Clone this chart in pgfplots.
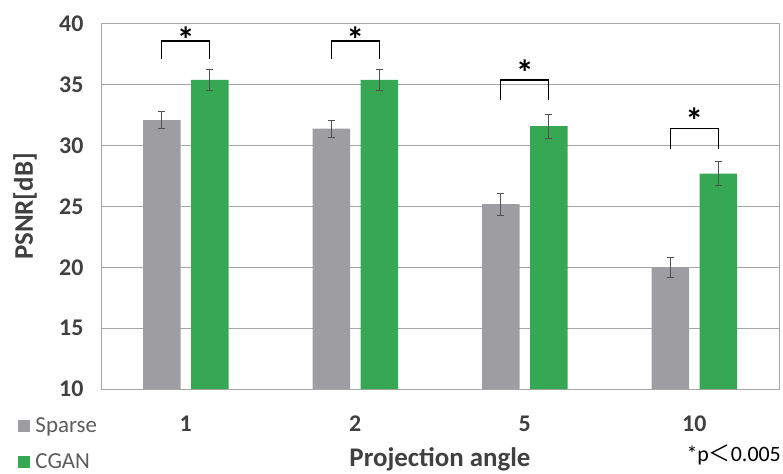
\documentclass[border=0pt]{standalone}
\usepackage{pgfplots}
\pgfplotsset{compat=1.18}
\usepackage{pgfplotstable}
\usepackage{fontspec}
\setmainfont{Carlito}
\newfontfamily\cjk{Noto Sans CJK JP}

\definecolor{sparsegray}{HTML}{9E9EA2}
\definecolor{cgangreen}{HTML}{36A853}
\definecolor{labelgray}{HTML}{404040}
\definecolor{gridgray}{HTML}{A6A6A6}
\definecolor{errgray}{HTML}{505050}

% PSNR (mean and error) per projection angle
\pgfplotstableread{
x  y     e
0  32.1  0.7
1  31.4  0.7
2  25.2  0.9
3  20.0  0.8
}\sparsedata
\pgfplotstableread{
x  y     e
0  35.4  0.9
1  35.4  0.9
2  31.6  1.0
3  27.7  1.0
}\cgandata

% significance bracket: centre x, leg bottom, bracket top, star position
\newcommand{\sigbracket}[4]{%
  \draw[line width=1.3bp, black]
    (axis cs:#1-0.142,#2) -- (axis cs:#1-0.142,#3) -- (axis cs:#1+0.142,#3) -- (axis cs:#1+0.142,#2);
  \node[font=\fontsize{36}{36}\selectfont\bfseries, anchor=center, inner sep=0pt] at (axis cs:#1,#4) {*};
}

\begin{document}
\begin{tikzpicture}
\path[use as bounding box] (0,0) rectangle (783bp,474bp);
\begin{axis}[
  at={(101bp,85bp)}, anchor=south west,
  scale only axis, width=678bp, height=365bp,
  xmin=-0.5, xmax=3.5, ymin=10, ymax=40,
  ytick={10,15,...,40},
  xtick={0,1,2,3}, xticklabels={1,2,5,10},
  major tick length=0pt,
  ybar=10.5bp, bar width=37.5bp,
  clip=false,
  ymajorgrids, grid style={gridgray, line width=1bp},
  axis line style={gridgray, line width=1bp},
  /pgf/number format/assume math mode=true,
  tick label style={font=\fontsize{24}{28}\selectfont\bfseries, text=labelgray},
  yticklabel style={xshift=-14bp},
  xticklabel style={yshift=-23bp},
  xlabel={Projection angle}, ylabel={PSNR[dB]},
  label style={font=\fontsize{27}{30}\selectfont\bfseries, text=labelgray},
  xlabel style={at={(0.5,-0.193)}, anchor=center, inner sep=0pt},
  ylabel style={at={(-0.112,0.5)}, anchor=center},
  legend style={at={(-0.122,-0.072)}, anchor=north west, draw=none, fill=none,
    inner sep=0pt, row sep=16bp, font=\fontsize{23}{26}\selectfont, text=labelgray!85,
    legend cell align=left, nodes={inner xsep=5bp}},
  legend image code/.code={\fill[#1] (0bp,-6bp) rectangle (12bp,6bp);},
  error bars/error bar style={line width=1bp, errgray},
  error bars/error mark options={rotate=90, mark size=3.5bp, line width=1bp, errgray},
]
\addplot[fill=sparsegray, draw=none,
  error bars/.cd, y dir=both, y explicit]
  table[x=x, y=y, y error=e] {\sparsedata};
\addplot[fill=cgangreen, draw=none,
  error bars/.cd, y dir=both, y explicit]
  table[x=x, y=y, y error=e] {\cgandata};
\legend{Sparse, CGAN}

\sigbracket{0}{37.1}{38.6}{38.72}
\sigbracket{1}{37.1}{38.6}{38.72}
\sigbracket{2}{33.75}{35.4}{36.02}
\sigbracket{3}{29.7}{31.4}{32.02}

\node[anchor=east, font=\fontsize{22}{26}\selectfont, inner sep=0pt] at (rel axis cs:1.003,-0.181) {*p{\cjk＜}0.005};
\end{axis}
\end{tikzpicture}
\end{document}
